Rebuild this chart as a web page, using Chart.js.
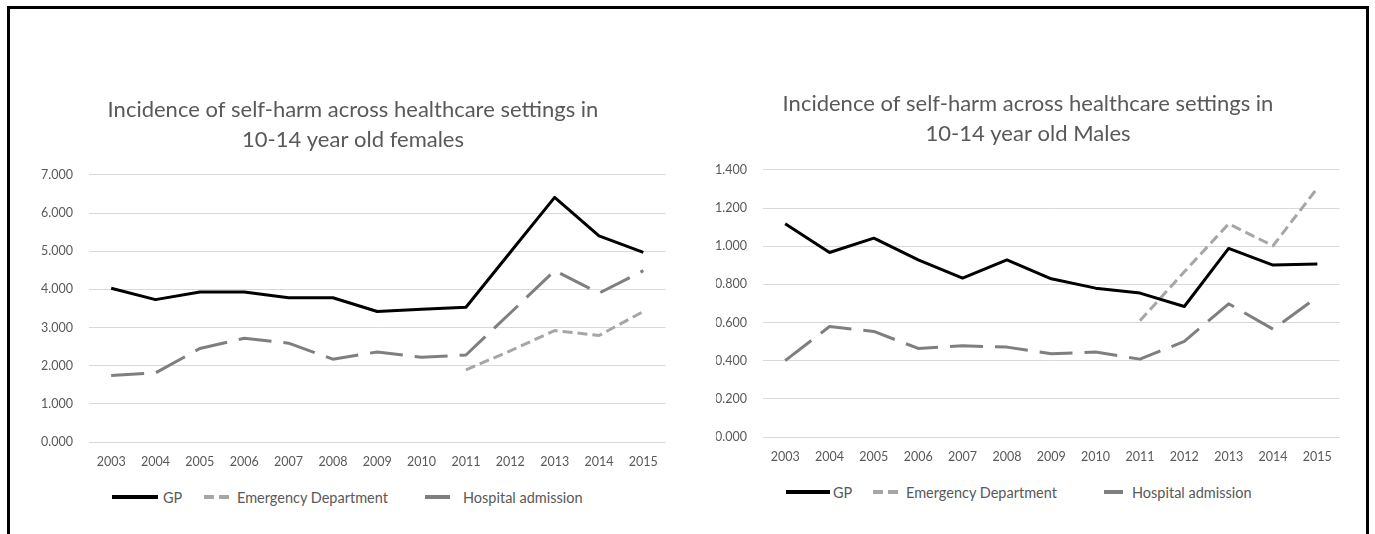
<!DOCTYPE html>
<html>
<head>
<meta charset="utf-8">
<script src="https://cdn.jsdelivr.net/npm/chart.js@4.4.1/dist/chart.umd.min.js"></script>
<style>
  html, body { margin: 0; padding: 0; background: #fff; }
  body { width: 1375px; height: 534px; position: relative; overflow: hidden; font-family: Lato, "Liberation Sans", sans-serif; }
  .frame { position: absolute; left: 7px; top: 6px; width: 1356px; height: 560px;
           border-left: 3px solid #000; border-top: 3px solid #000; border-right: 3px solid #000; }
  .box { position: absolute; }
  .leg { position: absolute; height: 16px; display: flex; align-items: center; }
  .leg span { font-size: 14.5px; color: #595959; white-space: nowrap; }
</style>
</head>
<body>
<div class="frame"></div>
<div class="box" id="boxF" style="left:40px; top:85px; width:630px; height:396px;"><canvas id="femaleChart"></canvas></div>
<div class="box" id="boxM" style="left:716px; top:79px; width:628px; height:397px;"><canvas id="maleChart"></canvas></div>
<div id="legends"></div>

<script>
// years along the x axis
const years = ['2003', '2004', '2005', '2006', '2007', '2008', '2009', '2010', '2011', '2012', '2013', '2014', '2015'];

// series names
const seriesNames = ['GP', 'Emergency Department', 'Hospital admission'];

// 10-14 year old females
const femaleGP = [4.03, 3.73, 3.93, 3.93, 3.78, 3.78, 3.42, 3.48, 3.53, 4.97, 6.41, 5.40, 4.97];
const femaleED = [null, null, null, null, null, null, null, null, 1.89, 2.39, 2.92, 2.79, 3.42];
const femaleHosp = [1.74, 1.81, 2.45, 2.72, 2.59, 2.17, 2.36, 2.22, 2.28, 3.38, 4.49, 3.90, 4.49];

// 10-14 year old males
const maleGP = [1.117, 0.967, 1.042, 0.928, 0.833, 0.928, 0.829, 0.780, 0.754, 0.684, 0.988, 0.901, 0.906];
const maleED = [null, null, null, null, null, null, null, null, 0.609, 0.866, 1.117, 1.002, 1.304];
const maleHosp = [0.400, 0.579, 0.553, 0.464, 0.478, 0.471, 0.436, 0.445, 0.408, 0.501, 0.698, 0.565, 0.733];

const lineColors = ['#000000', '#a6a6a6', '#7f7f7f'];
const lineDashes = [[], [10, 5], [33, 12]];
const textGrey = '#595959';

function makeDatasets(values) {
    return values.map((data, i) => ({
        label: seriesNames[i],
        data: data,
        borderColor: lineColors[i],
        backgroundColor: lineColors[i],
        borderWidth: 3,
        borderDash: lineDashes[i],
        pointRadius: 0,
        tension: 0,
        spanGaps: false,
        borderJoinStyle: 'round'
    }));
}

function makeChart(canvasId, titleLines, values, yMax, yStep, yWidth, titleGap) {
    const ctx = document.getElementById(canvasId).getContext('2d');
    return new Chart(ctx, {
        type: 'line',
        data: { labels: years, datasets: makeDatasets(values) },
        options: {
            responsive: true,
            maintainAspectRatio: false,
            animation: false,
            layout: { padding: { left: 0, right: 4, top: 0, bottom: 0 } },
            plugins: {
                legend: { display: false },
                tooltip: { enabled: false },
                title: {
                    display: true,
                    text: titleLines,
                    color: textGrey,
                    font: { family: 'Lato', size: 22, weight: 'normal', lineHeight: 1.36 },
                    padding: { top: 10, bottom: titleGap }
                }
            },
            scales: {
                x: {
                    offset: true,
                    grid: { display: false, drawTicks: false },
                    border: { display: false },
                    ticks: { color: textGrey, font: { family: 'Lato', size: 12.5 }, padding: 12, maxRotation: 0, autoSkip: false }
                },
                y: {
                    min: 0,
                    max: yMax,
                    grid: { color: '#d9d9d9', lineWidth: 1, drawTicks: false },
                    border: { display: false },
                    ticks: {
                        stepSize: yStep,
                        color: textGrey,
                        font: { family: 'Lato', size: 12.5 },
                        padding: 16,
                        callback: v => v.toFixed(3)
                    },
                    afterFit: scale => { scale.width = yWidth; }
                }
            }
        }
    });
}

makeChart('femaleChart',
    ['Incidence of self-harm across healthcare settings in', '10-14 year old females'],
    [femaleGP, femaleED, femaleHosp], 7, 1, 49, 20);

makeChart('maleChart',
    ['Incidence of self-harm across healthcare settings in', '10-14 year old Males'],
    [maleGP, maleED, maleHosp], 1.4, 0.2, 47, 21);

// legend rows under each chart (swatch start, swatch end, text start), y centre
const legendRows = [
    { y: 497, items: [[112, 158, 163], [204, 229, 237], [425, 450, 463]] },
    { y: 492, items: [[786, 830, 833], [873, 899, 906], [1104, 1123, 1132]] }
];

const legendHost = document.getElementById('legends');
legendRows.forEach(row => {
    row.items.forEach((pos, i) => {
        const w = pos[1] - pos[0];
        const sw = document.createElement('div');
        sw.className = 'leg';
        sw.style.left = pos[0] + 'px';
        sw.style.top = (row.y - 8) + 'px';
        sw.innerHTML = `<svg width="${w}" height="16"><line x1="0" y1="8" x2="${w}" y2="8" stroke="${lineColors[i]}" stroke-width="4" stroke-dasharray="${lineDashes[i].join(' ') || 'none'}"/></svg>`;
        legendHost.appendChild(sw);

        const tx = document.createElement('div');
        tx.className = 'leg';
        tx.style.left = pos[2] + 'px';
        tx.style.top = (row.y - 8) + 'px';
        tx.innerHTML = `<span>${seriesNames[i]}</span>`;
        legendHost.appendChild(tx);
    });
});
</script>
</body>
</html>
